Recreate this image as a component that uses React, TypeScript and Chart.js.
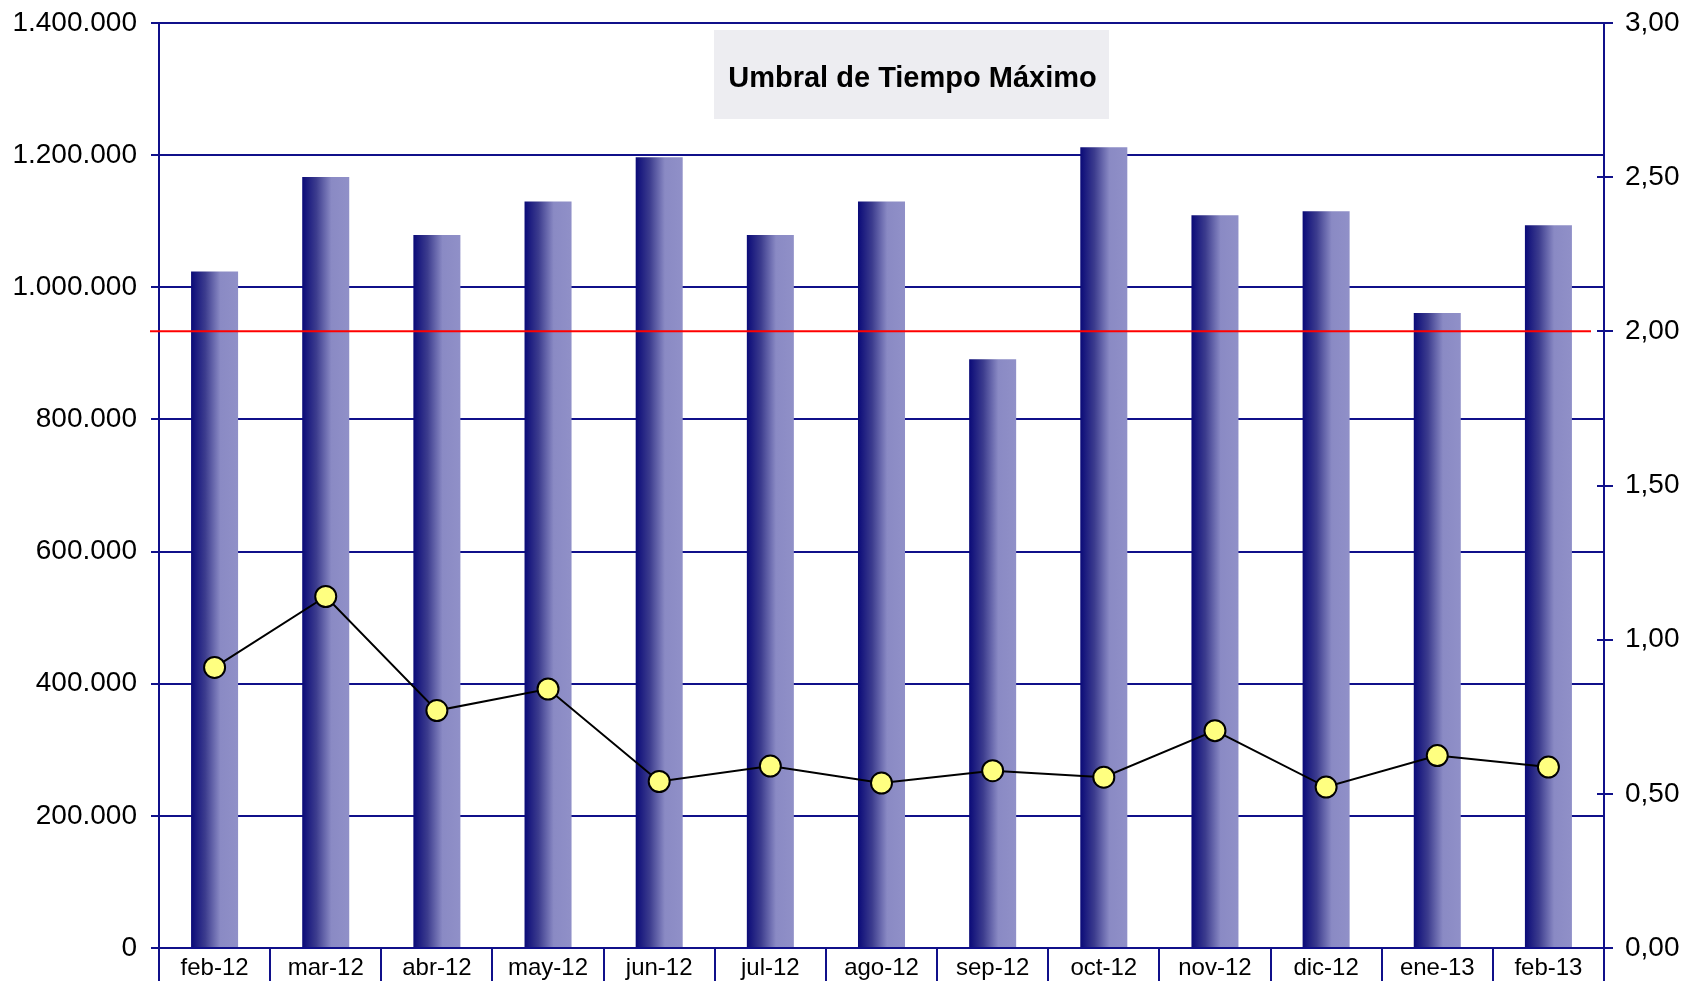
import React, { useEffect, useRef } from 'react';
import { Chart, registerables } from 'chart.js';

Chart.register(...registerables);

// ---- Data ----
const months = ['feb-12', 'mar-12', 'abr-12', 'may-12', 'jun-12', 'jul-12', 'ago-12', 'sep-12', 'oct-12', 'nov-12', 'dic-12', 'ene-13', 'feb-13'];
const volumes = [1024000, 1167000, 1079000, 1130000, 1197000, 1079000, 1130000, 891000, 1212000, 1109000, 1115000, 961000, 1094000];
const maxTimes = [0.91, 1.14, 0.77, 0.84, 0.54, 0.59, 0.535, 0.575, 0.554, 0.705, 0.522, 0.624, 0.587];
const THRESHOLD = 2.0;
const TITLE = 'Umbral de Tiempo Máximo';
const LEFT_MAX = 1400000;
const LEFT_STEP = 200000;
const RIGHT_MAX = 3;
const RIGHT_STEP = 0.5;

const NAVY = '#10108a';
const BAR_FRACTION = 0.423;
const FONT = "'Liberation Sans', Arial, sans-serif";

const fmtThousands = (v: number) => String(Math.round(v)).replace(/\B(?=(\d{3})+(?!\d))/g, '.');
const fmtDecimal = (v: number) => v.toFixed(2).replace('.', ',');

export default function App() {
  const ref = useRef<HTMLCanvasElement>(null);

  useEffect(() => {
    const canvas = ref.current!;
    const barFill = (c: any) => {
      const chart = c.chart;
      const xs = chart.scales && chart.scales.x;
      if (!xs || c.dataIndex === undefined || !isFinite(xs.width)) return '#8c8cc6';
      const x = xs.getPixelForValue(c.dataIndex);
      const w = (xs.width / months.length) * BAR_FRACTION;
      if (!isFinite(x) || !isFinite(w)) return '#8c8cc6';
      const g = chart.ctx.createLinearGradient(x - w / 2, 0, x + w / 2, 0);
      g.addColorStop(0, '#0a0a78');
      g.addColorStop(0.3, '#3c3c8e');
      g.addColorStop(0.62, '#8a8ac4');
      g.addColorStop(1, '#9090c8');
      return g;
    };

    const decor = {
      id: 'decor',
      afterDatasetsDraw(chart: any) {
        const { ctx, chartArea, scales } = chart;
        const y1 = scales.y1;
        ctx.save();
        // threshold line
        const ty = y1.getPixelForValue(THRESHOLD);
        ctx.strokeStyle = '#ff0000';
        ctx.lineWidth = 2;
        ctx.beginPath();
        ctx.moveTo(chartArea.left - 9, ty);
        ctx.lineTo(chartArea.right - 13, ty);
        ctx.stroke();
        // inner part of right axis ticks
        ctx.strokeStyle = NAVY;
        ctx.lineWidth = 2;
        ctx.beginPath();
        y1.ticks.forEach((_t: any, i: number) => {
          const p = Math.round(y1.getPixelForTick(i));
          ctx.moveTo(chartArea.right - 7, p);
          ctx.lineTo(chartArea.right, p);
        });
        ctx.stroke();
        // title box
        const bx = chartArea.left + 555;
        const by = chartArea.top + 7;
        const bw = 395;
        const bh = 89;
        ctx.fillStyle = '#ededf1';
        ctx.fillRect(bx, by, bw, bh);
        ctx.fillStyle = '#000';
        ctx.font = `bold 29px ${FONT}`;
        ctx.textAlign = 'center';
        ctx.textBaseline = 'middle';
        ctx.fillText(TITLE, bx + bw / 2 + 1, by + bh / 2 + 4);
        ctx.restore();
      },
    };

    const noVPad = (s: any) => { s.paddingTop = 0; s.paddingBottom = 0; };

    const chart = new Chart(canvas, {
      type: 'bar',
      data: {
        labels: months,
        datasets: [
          {
            type: 'line',
            label: 'Tiempo',
            data: maxTimes,
            yAxisID: 'y1',
            borderColor: '#000',
            borderWidth: 2,
            pointBackgroundColor: '#ffff80',
            pointBorderColor: '#000',
            pointBorderWidth: 2,
            pointRadius: 10.5,
            tension: 0,
            order: 0,
          } as any,
          {
            type: 'bar',
            label: 'Volumen',
            data: volumes,
            yAxisID: 'y',
            backgroundColor: barFill,
            borderWidth: 0,
            categoryPercentage: 1,
            barPercentage: BAR_FRACTION,
            order: 1,
          } as any,
        ],
      },
      options: {
        responsive: false,
        animation: false,
        layout: { padding: { top: 23, left: 0, right: 0, bottom: 0 } },
        plugins: {
          legend: { display: false },
          tooltip: { enabled: false },
          title: { display: false },
        },
        scales: {
          x: {
            offset: true,
            grid: {
              offset: true,
              drawOnChartArea: false,
              drawTicks: true,
              tickLength: 40,
              color: NAVY,
              lineWidth: 2,
            },
            border: { color: NAVY, width: 2 },
            ticks: {
              color: '#000',
              font: { family: FONT, size: 24 },
              padding: -34,
              maxRotation: 0,
              autoSkip: false,
            },
            afterFit: (s: any) => { s.height = 33; },
          },
          y: {
            position: 'left',
            min: 0,
            max: LEFT_MAX,
            grid: { color: NAVY, lineWidth: 2, tickLength: 8, drawTicks: true },
            border: { color: NAVY, width: 2 },
            ticks: {
              stepSize: LEFT_STEP,
              color: '#000',
              font: { family: FONT, size: 28 },
              padding: 14,
              callback: (v: any) => fmtThousands(Number(v)),
            },
            afterFit: (s: any) => { s.width = 159; noVPad(s); },
          },
          y1: {
            position: 'right',
            min: 0,
            max: RIGHT_MAX,
            grid: { drawOnChartArea: false, color: NAVY, lineWidth: 2, tickLength: 9, drawTicks: true },
            border: { color: NAVY, width: 2 },
            ticks: {
              stepSize: RIGHT_STEP,
              color: '#000',
              font: { family: FONT, size: 28 },
              padding: 12,
              callback: (v: any) => fmtDecimal(Number(v)),
            },
            afterFit: (s: any) => { s.width = 94; noVPad(s); },
          },
        },
      },
      plugins: [decor],
    });
    return () => chart.destroy();
  }, []);

  return (
    <div style={{ position: 'fixed', left: 0, top: 0, width: 1698, height: 981, background: '#fff', overflow: 'hidden' }}>
      <canvas ref={ref} width={1698} height={981} style={{ display: 'block' }} />
    </div>
  );
}
